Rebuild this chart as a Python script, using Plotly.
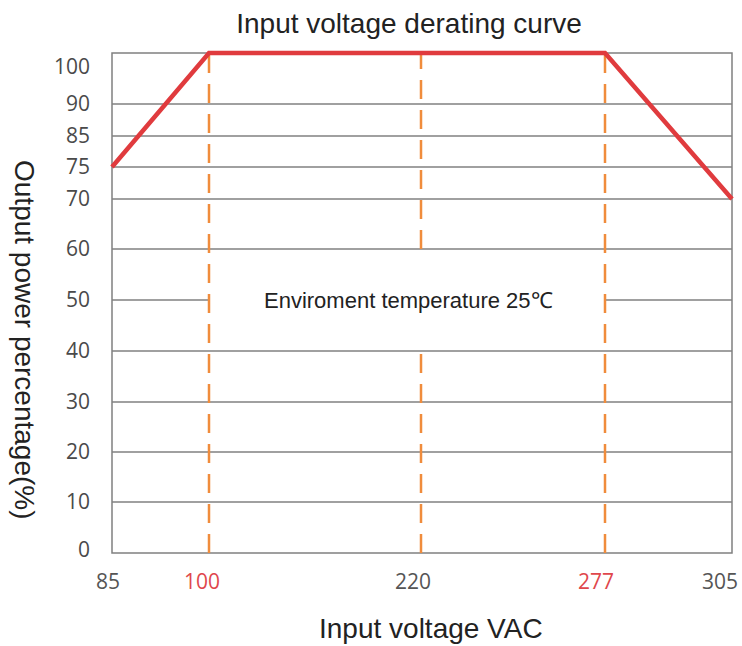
import numpy as np
import plotly.graph_objects as go

# ---- data ----
voltage = [85, 100, 277, 305]          # VAC
power_pct = [75, 100, 100, 70]         # %
x_tick_values = [85, 100, 220, 277, 305]
x_tick_labels = ["85", "100", "220", "277", "305"]
x_tick_highlight = [False, True, False, True, False]
y_tick_values = [0, 10, 20, 30, 40, 50, 60, 70, 75, 85, 90, 100]
y_tick_labels = ["0", "10", "20", "30", "40", "50", "60", "70", "75", "85", "90", "100"]
guide_voltages = [100, 220, 277]
note_text = "Enviroment temperature 25℃"

# ---- schematic (non-linear) axis layout ----
x_axis_pos = [0, 97, 309, 493, 620]
y_axis_pos = [0, 51, 101, 151, 202, 253, 304, 354, 386, 417, 449, 500]
x_label_offsets = [-4, -7, -8, -9, -12]


def mx(v):
    return float(np.interp(v, x_tick_values, x_axis_pos))


def my(v):
    return float(np.interp(v, y_tick_values, y_axis_pos))


GRID = "#808080"
ORANGE = "#f08c3c"
RED = "#e03b3e"
RED_TXT = "#e0474c"

fig = go.Figure()

fig.add_trace(go.Scatter(
    x=[mx(v) for v in voltage],
    y=[my(p) for p in power_pct],
    mode="lines",
    line=dict(color=RED, width=4.5),
    hoverinfo="skip",
    showlegend=False,
))

shapes = []
# outer box
shapes.append(dict(type="rect", xref="x", yref="y", x0=mx(85), x1=mx(305),
                   y0=my(0), y1=my(100), line=dict(color=GRID, width=1.5),
                   layer="below"))
# horizontal grid lines
for v in y_tick_values[1:-1]:
    if v == 50:
        segs = [(85, 100), (277, 305)]
    else:
        segs = [(85, 305)]
    for a, b in segs:
        shapes.append(dict(type="line", xref="x", yref="y", x0=mx(a), x1=mx(b),
                           y0=my(v), y1=my(v), line=dict(color=GRID, width=1.5),
                           layer="below"))
# dashed guides
for g in guide_voltages:
    if g == 220:
        segs = [(0, 40), (60, 100)]
    else:
        segs = [(0, 100)]
    for a, b in segs:
        shapes.append(dict(type="line", xref="x", yref="y", x0=mx(g), x1=mx(g),
                           y0=my(a), y1=my(b),
                           line=dict(color=ORANGE, width=2.5, dash="19px,11px"),
                           layer="below"))

# label positions (tick labels sit slightly off some grid lines)
y_label_pos = [my(v) for v in y_tick_values]
y_label_pos[0] = my(0) + 3
y_label_pos[-1] = my(100) - 14
x_label_pos = [mx(v) + o for v, o in zip(x_tick_values, x_label_offsets)]

x_ticktext = [f"<span style='color:{RED_TXT}'>{t}</span>" if h else t
              for t, h in zip(x_tick_labels, x_tick_highlight)]

fig.update_layout(
    width=742, height=646,
    margin=dict(l=106, r=7, t=50, b=90, autoexpand=False),
    paper_bgcolor="white", plot_bgcolor="white",
    shapes=shapes,
    title=dict(text="Input voltage derating curve", x=409 / 742, xanchor="center",
               y=1 - 23 / 646, yanchor="middle", yref="container",
               font=dict(family="Liberation Sans, Arial", size=28, color="#222222")),
    xaxis=dict(range=[-6, 623], showgrid=False, zeroline=False, showline=False,
               tickmode="array", tickvals=x_label_pos,
               ticktext=x_ticktext, ticks="", ticklabelstandoff=11,
               tickfont=dict(family="Open Sans", size=21, color="#555555"),
               fixedrange=True),
    yaxis=dict(range=[-3, 503], showgrid=False, zeroline=False, showline=False,
               tickmode="array", tickvals=y_label_pos, ticktext=y_tick_labels,
               ticks="", ticklabelstandoff=15,
               tickfont=dict(family="Open Sans", size=21, color="#4a4a4a"),
               fixedrange=True),
    annotations=[
        dict(text=note_text, x=296, y=my(50), xref="x", yref="y",
             showarrow=False, xanchor="center", yanchor="middle",
             font=dict(family="Liberation Sans, Arial", size=22, color="#222222")),
        dict(text="Input voltage VAC", x=(431 - 106) / 629, y=(556 - 628) / 506,
             xref="paper", yref="paper", showarrow=False,
             xanchor="center", yanchor="middle",
             font=dict(family="Liberation Sans, Arial", size=28, color="#222222")),
        dict(text="Output power percentage(%)", x=(25 - 106) / 629,
             y=(556 - 340) / 506, xref="paper", yref="paper", showarrow=False,
             textangle=90, xanchor="center", yanchor="middle",
             font=dict(family="Liberation Sans, Arial", size=28, color="#222222")),
    ],
)

fig.write_html("out.html",
               config={"displayModeBar": False},
               post_script="document.body.style.margin='0';"
                           "document.body.style.overflow='hidden';")
